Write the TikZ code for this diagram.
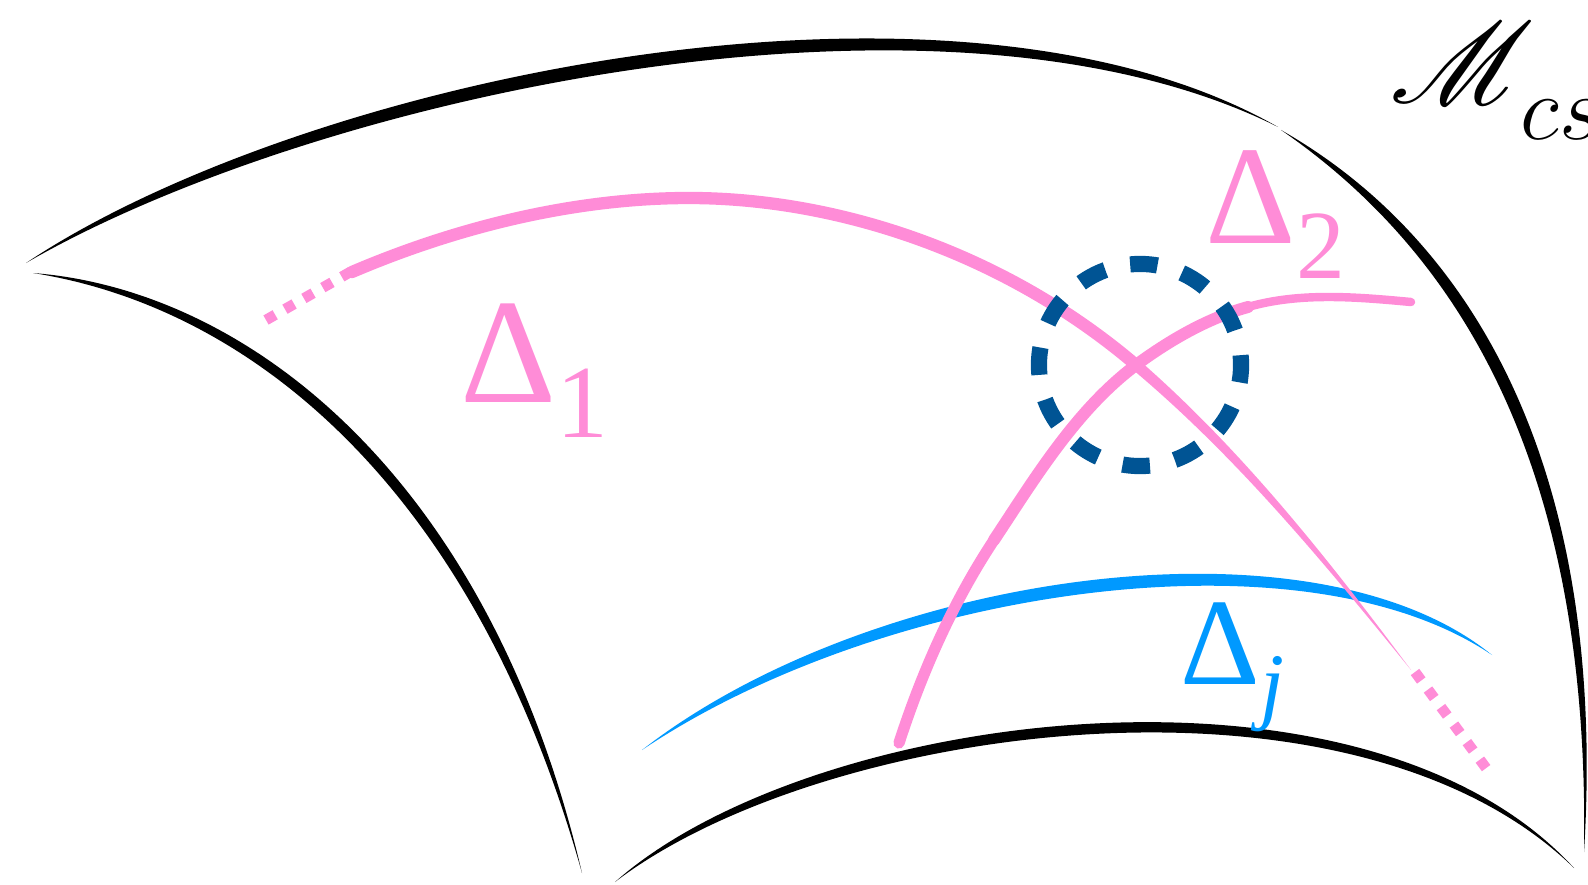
\RequirePackage{fix-cm}
\documentclass[tikz,border=0pt]{standalone}
\usepackage{fontspec}
\usepackage{mathrsfs}
\DeclareFontFamily{U}{rsfs}{\skewchar\font127 }
\DeclareFontShape{U}{rsfs}{m}{n}{<-> rsfs10}{}
\newfontfamily\deltafont{Liberation Serif}
\definecolor{sheafpink}{RGB}{255,140,215}
\definecolor{sheafblue}{RGB}{0,153,255}
\definecolor{patchblue}{RGB}{0,84,148}
\tikzset{
  mfedge/.style={fill=black},
  mfcurve/.style={fill=sheafblue},
  mfstratum/.style={draw=sheafpink, line cap=round},
  mftail/.style={fill=sheafpink},
  mfdots/.style={draw=sheafpink, line width=3pt,
                 dash pattern=on 3pt off 3.2pt},
  mfpatch/.style={draw=patchblue, line width=4.6pt,
                  dash pattern=on 7.8pt off 7.25pt, dash phase=5pt},
  mflabel/.style={inner sep=0pt, anchor=base west}
}

\begin{document}
\begin{tikzpicture}[x=0.01cm, y=-0.01cm]
  \useasboundingbox (0,0) rectangle (1588,885);
  % edges of the moduli space
  \fill[mfedge] (26,263) .. controls (300,80) and (950,-60) .. (1278,127)
    .. controls (940,-42) and (311,98) .. (26,263) -- cycle;
  \fill[mfedge] (1281,130) .. controls (1470,260) and (1590,480) .. (1584,852)
    .. controls (1607,480) and (1481,244) .. (1281,130) -- cycle;
  \fill[mfedge] (33,273) .. controls (250,290) and (490,480) .. (582,873)
    .. controls (473,485) and (249,307) .. (33,273) -- cycle;
  \fill[mfedge] (615,882) .. controls (820,725) and (1350,650) .. (1574,868)
    .. controls (1362,637) and (809,710) .. (615,882) -- cycle;
  % the j-th divisor
  \fill[mfcurve] (642,750) .. controls (880,590) and (1300,525) .. (1492,655)
    .. controls (1311,508) and (869,573) .. (642,750) -- cycle;
  % Delta_1
  \draw[mfstratum, line width=3.5pt] (352,272) .. controls (462,225) and (579,198) .. (689,198)
    .. controls (839,198) and (1006,254) .. (1136,365);
  \fill[mftail] (1140,361) .. controls (1243,451) and (1329,560) .. (1411,670)
    .. controls (1325,564) and (1237,457) .. (1132,369) -- cycle;
  \draw[mfdots] (266,320) -- (352,271);
  \draw[mfdots] (1415,672) -- (1489,772);
  % Delta_2
  \draw[mfstratum, line width=3.2pt] (899,743) .. controls (922,672) and (953,602) .. (994,540);
  \draw[mfstratum, line width=3.4pt] (994,540) .. controls (1035,478) and (1076,410) .. (1136,365)
    .. controls (1170,340) and (1208,318) .. (1248,307);
  \draw[mfstratum, line width=2.4pt] (1248,307) .. controls (1300,292) and (1357,297) .. (1411,302);
  % neighbourhood of the crossing
  \draw[mfpatch] (1140,365) circle[radius=1.01cm];

  \node[mflabel, text=sheafpink, font={\deltafont\fontsize{42.5}{50}\selectfont}] (delta1) at (460,402)
    {Δ\raisebox{-10.2pt}{\fontsize{29.5}{35}\selectfont 1}};
  \node[mflabel, text=sheafpink, font={\deltafont\fontsize{40}{48}\selectfont}] (delta2) at (1205,243)
    {Δ\raisebox{-10pt}{\fontsize{27.8}{33}\selectfont 2}};
  \node[mflabel, text=sheafblue, font={\deltafont\fontsize{35.2}{42}\selectfont}] (deltaj) at (1180,684)
    {Δ\raisebox{-8.5pt}{\fontsize{24.5}{29}\selectfont\itshape j}};
  \node[mflabel, font={\fontsize{33}{40}\selectfont}] (mcs) at (1390,104)
    {$\mathscr{M}$\kern-4pt\raisebox{-10pt}{\fontsize{26}{31}\selectfont$cs$}};
\end{tikzpicture}
\end{document}
